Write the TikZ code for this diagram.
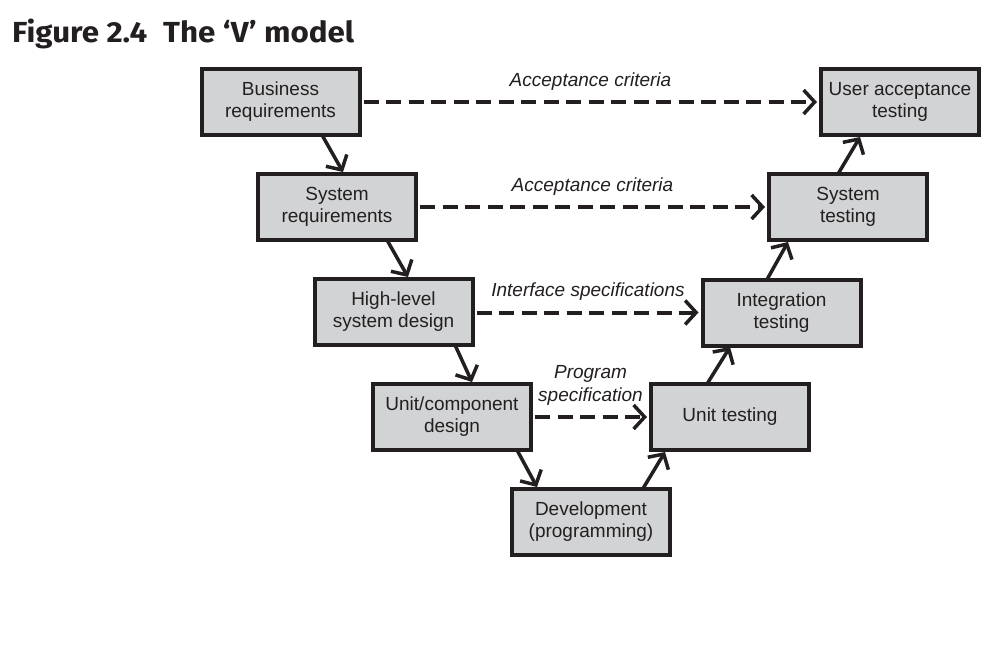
\documentclass[tikz,border=0pt]{standalone}
\usepackage{fontspec}
\setmainfont{Liberation Sans}
\newfontfamily\titlefont[FakeStretch=1.08]{Fira Sans}
\usetikzlibrary{arrows.meta,calc}
\definecolor{ink}{HTML}{231F20}
\definecolor{boxgray}{HTML}{D1D3D4}
\begin{document}
\begin{tikzpicture}[x=1pt,y=-1pt,
  stage/.style={draw=ink, fill=boxgray, line width=4pt, minimum width=158pt,
    minimum height=66pt, inner sep=0pt, align=center, text=ink,
    font=\fontsize{19}{22}\selectfont},
  flow/.style={draw=ink, line width=3.5pt,
    -{Straight Barb[length=11pt,width=24pt,line width=3.5pt]}},
  trace/.style={draw=ink, line width=4pt, dash pattern=on 15pt off 7.5pt,
    -{Straight Barb[length=11pt,width=24pt,line width=3.5pt]}},
  lbl/.style={anchor=base, inner sep=0pt, text=ink, align=center,
    font=\fontsize{19}{23}\selectfont\itshape}
]
\useasboundingbox[fill=white] (0,0) rectangle (1005,654);

\node[anchor=base west, inner sep=0pt, text=ink,
  font=\titlefont\bfseries\fontsize{29}{34}\selectfont] (title) at (12,42)
  {Figure 2.4\hspace{0.55em}The ‘V’ model};

% left branch
\node[stage] (BR)  at (280.5,102) {Business\\requirements};
\node[stage] (SR)  at (337,207)   {System\\requirements};
\node[stage] (HL)  at (393.5,312) {High-level\\system design};
\node[stage] (UCD) at (452,417)   {Unit/component\\design};
\node[stage] (DEV) at (591,521.5) {Development\\(programming)};
% right branch
\node[stage] (UT)  at (730,417)   {Unit testing};
\node[stage] (IT)  at (781.5,312.5) {Integration\\testing};
\node[stage] (ST)  at (848,207)   {System\\testing};
\node[stage] (UAT) at (900,102)   {User acceptance\\testing};

% down arrows
\draw[flow] ($(BR.center)+(41.5,33)$)  -- ($(SR.center)+(6,-35)$);
\draw[flow] ($(SR.center)+(50,33)$)    -- ($(HL.center)+(14.5,-35)$);
\draw[flow] ($(HL.center)+(61.5,33)$)  -- ($(UCD.center)+(20,-35)$);
\draw[flow] ($(UCD.center)+(65,33)$)   -- ($(DEV.center)+(-54,-34.5)$);
% up arrows
\draw[flow] ($(DEV.center)+(52,-33)$)  -- ($(UT.center)+(-65,35)$);
\draw[flow] ($(UT.center)+(-23,-33)$)  -- ($(IT.center)+(-51.5,34.5)$);
\draw[flow] ($(IT.center)+(-14.5,-33)$) -- ($(ST.center)+(-60,35)$);
\draw[flow] ($(ST.center)+(-10,-33)$)  -- ($(UAT.center)+(-40,35)$);

% dashed traces
\draw[trace] ($(BR.east)+(2,0)$)  -- ($(UAT.west)+(-2,0)$);
\draw[trace] ($(SR.east)+(2,0)$)  -- ($(ST.west)+(-2,0)$);
\draw[trace] ($(HL.east)+(2,0.5)$)  -- ($(IT.west)+(-2,0)$);
\draw[trace] ($(UCD.east)+(2,0)$) -- ($(UT.west)+(-2,0)$);

% labels
\node[lbl] (l1) at (590.5,86.7) {Acceptance criteria};
\node[lbl] (l2) at (592.5,191.7) {Acceptance criteria};
\node[lbl] (l3) at (588,296.5) {Interface specifications};
\node[lbl] (l4) at (590.5,378) {Program};
\node[lbl] (l5) at (590.5,401) {specification};
\end{tikzpicture}
\end{document}
